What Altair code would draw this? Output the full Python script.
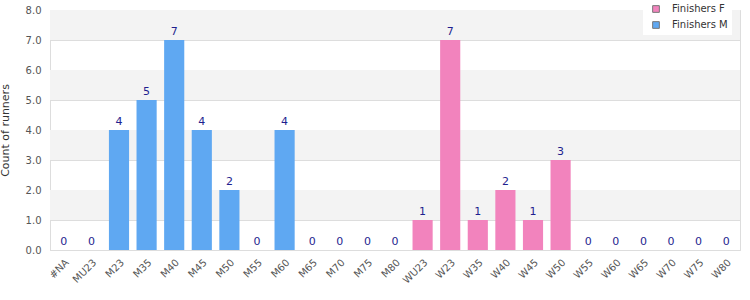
import altair as alt
import pandas as pd

categories = ["#NA", "MU23", "M23", "M35", "M40", "M45", "M50", "M55", "M60", "M65", "M70", "M75", "M80",
              "WU23", "W23", "W35", "W40", "W45", "W50", "W55", "W60", "W65", "W70", "W75", "W80"]
counts = [0, 0, 4, 5, 7, 4, 2, 0, 4, 0, 0, 0, 0,
          1, 7, 1, 2, 1, 3, 0, 0, 0, 0, 0, 0]
series = ["Finishers M"] * 13 + ["Finishers F"] * 12
band_starts = [1, 3, 5, 7]
y_ticks = [0, 1, 2, 3, 4, 5, 6, 7, 8]

df = pd.DataFrame({"cat": categories, "count": counts, "series": series})
bands = pd.DataFrame({"y": band_starts, "y2": [b + 1 for b in band_starts]})

FONT = "DejaVu Sans"
yscale = alt.Scale(domain=[0, 8], nice=False)
yaxis = alt.Axis(values=y_ticks, format=".1f", ticks=False, grid=True, labelOverlap=False,
                 domainColor="#dddddd", gridColor="#dddddd", labelColor="#555555",
                 labelFontSize=10, labelFont=FONT, titleFont=FONT, titleFontSize=11,
                 titleFontWeight="normal", titleColor="#333333", titleX=-42, titleY=120,
                 titleAngle=270, titleBaseline="alphabetic", titleAlign="center", labelPadding=9)
xaxis = alt.Axis(labelAngle=-45, labelAlign="right", labelBaseline="top",
                 ticks=False, grid=False, domainColor="#dddddd", labelColor="#555555",
                 labelFontSize=10, labelPadding=7, labelFont=FONT, labelOverlap=False)

band_layer = alt.Chart(bands).mark_rect(fill="#f3f3f3").encode(
    y=alt.Y("y:Q", scale=yscale, title="Count of runners", axis=yaxis),
    y2="y2:Q",
    x=alt.value(0), x2=alt.value(690),
)

bars = alt.Chart(df).mark_bar().encode(
    x=alt.X("cat:N", sort=categories, title=None,
            scale=alt.Scale(paddingInner=0.27, paddingOuter=0.135), axis=xaxis),
    y=alt.Y("count:Q", scale=yscale, title="Count of runners", axis=yaxis),
    color=alt.Color("series:N",
                    scale=alt.Scale(domain=["Finishers F", "Finishers M"], range=["#f283bd", "#5fa8f2"]),
                    legend=alt.Legend(title=None, orient="none", legendX=593, legendY=-10,
                                      symbolType="square", symbolStrokeColor="#777777", symbolStrokeWidth=1,
                                      symbolSize=45, labelFont=FONT, labelFontSize=10, labelColor="#333333",
                                      fillColor="white", padding=4, rowPadding=4, labelOffset=11,
                                      symbolOffset=4)),
)

labels = alt.Chart(df).mark_text(dy=-8, color="#1f1f8f", font=FONT, fontSize=11).encode(
    x=alt.X("cat:N", sort=categories, title=None, axis=xaxis),
    y=alt.Y("count:Q", scale=yscale, title="Count of runners", axis=yaxis),
    text="count:Q",
)

chart = alt.layer(band_layer, bars, labels).properties(
    width=690, height=240,
    autosize=alt.AutoSizeParams(type="none"),
    padding={"left": 50, "top": 10, "right": 10, "bottom": 50},
).configure_view(stroke="#dddddd")

chart.save("out.html", embed_options={"renderer": "svg", "actions": False})
